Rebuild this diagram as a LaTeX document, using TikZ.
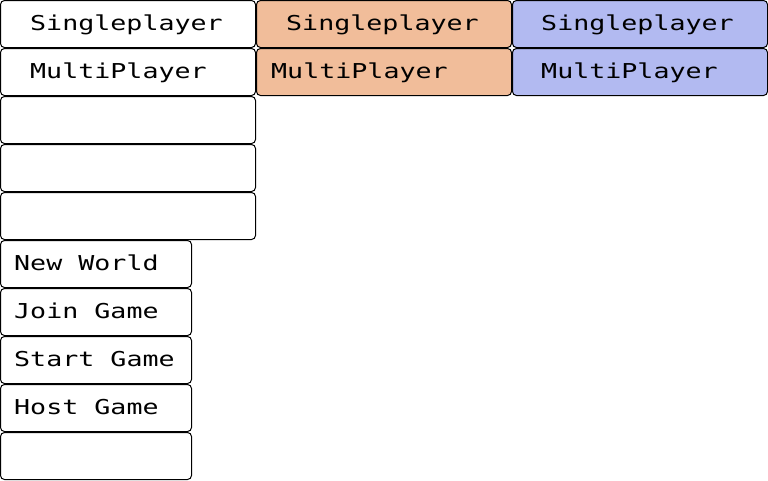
\documentclass[tikz,border=0pt]{standalone}
\usepackage{fontspec}
\usepackage{graphicx}
\newfontfamily\pix{DejaVu Sans Mono}
\newcommand\ptxt[1]{\scalebox{1.3}[1]{#1}}
\definecolor{orangec}{HTML}{F1BD9A}
\definecolor{bluec}{HTML}{B2BAF1}
\begin{document}
\begin{tikzpicture}[x=1pt,y=-1pt,
  cell/.style={draw=black, line width=1pt, rounded corners=4pt, anchor=north west, inner sep=0pt, outer sep=0pt, fill=white},
  wide/.style={cell, minimum width=255pt, minimum height=47pt},
  narrow/.style={cell, minimum width=191pt, minimum height=47pt},
  lbl/.style={anchor=base west, inner sep=0pt, font=\pix\fontsize{20.5}{24}\selectfont}]
\useasboundingbox (0,0) rectangle (768,480);
\fill[white] (0,0) rectangle (768,480);
% column 1
\node[wide] (s1) at (0.5,0.5) {};
\node[wide] (m1) at (0.5,48.5) {};
\node[wide] (e1) at (0.5,96.5) {};
\node[wide] (e2) at (0.5,144.5) {};
\node[wide] (e3) at (0.5,192.5) {};
% column 2
\node[wide, fill=orangec] (s2) at (256.5,0.5) {};
\node[wide, fill=orangec] (m2) at (256.5,48.5) {};
% column 3
\node[wide, fill=bluec] (s3) at (512.5,0.5) {};
\node[wide, fill=bluec] (m3) at (512.5,48.5) {};
% lower list
\node[narrow] (nw) at (0.5,240.5) {};
\node[narrow] (jg) at (0.5,288.5) {};
\node[narrow] (sg) at (0.5,336.5) {};
\node[narrow] (hg) at (0.5,384.5) {};
\node[narrow] (e4) at (0.5,432.5) {};
% labels
\node[lbl] (ts1) at (30,30.5) {\ptxt{Singleplayer}};
\node[lbl] (tm1) at (30,78.5) {\ptxt{MultiPlayer}};
\node[lbl] (ts2) at (286,30.5) {\ptxt{Singleplayer}};
\node[lbl] (tm2) at (271,78.5) {\ptxt{MultiPlayer}};
\node[lbl] (ts3) at (541,30.5) {\ptxt{Singleplayer}};
\node[lbl] (tm3) at (541,78.5) {\ptxt{MultiPlayer}};
\node[lbl] (tnw) at (14,270.5) {\ptxt{New World}};
\node[lbl] (tjg) at (14,318.5) {\ptxt{Join Game}};
\node[lbl] (tsg) at (14,366.5) {\ptxt{Start Game}};
\node[lbl] (thg) at (14,414.5) {\ptxt{Host Game}};
\end{tikzpicture}
\end{document}
